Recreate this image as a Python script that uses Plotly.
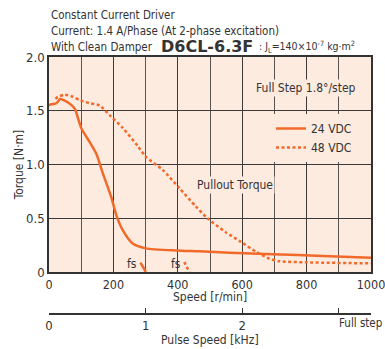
import plotly.graph_objects as go

# 24 VDC pullout torque (solid)
speed_24 = [0, 7, 23, 35, 49, 69, 80, 100, 126, 147, 167, 193, 210, 229, 260, 301, 394, 467, 560, 694, 850, 1000]
torque_24 = [1.55, 1.56, 1.57, 1.61, 1.595, 1.555, 1.52, 1.34, 1.21, 1.10, 0.92, 0.70, 0.52, 0.39, 0.265, 0.22, 0.20, 0.192, 0.18, 0.165, 0.15, 0.132]

# 48 VDC pullout torque (dashed)
speed_48 = [20, 28, 49, 74, 95, 126, 157, 188, 229, 276, 301, 353, 405, 456, 492, 549, 596, 642, 684, 715, 800, 1000]
torque_48 = [1.61, 1.63, 1.65, 1.63, 1.60, 1.57, 1.55, 1.46, 1.34, 1.17, 1.07, 0.95, 0.78, 0.61, 0.50, 0.37, 0.28, 0.19, 0.125, 0.10, 0.09, 0.08]

# starting frequency (fs) marks
fs_24_x = [284, 301]
fs_24_y = [0.088, 0.0]
fs_48_x = [420, 436]
fs_48_y = [0.093, 0.0]

# pulse speed axis
pulse_pos = [0, 300, 600, 900]
pulse_txt = ['0', '1', '2', '']

ORANGE = '#f26a2a'
BG = '#fdebe0'
TXT = '#333'
FONT = 'DejaVu Sans Condensed, Liberation Sans Narrow, sans-serif'

W, H = 385, 349
# paper area in pixels
L, R, T, B = 49, 371, 57, 314


def px(x, y):
    return (x - L) / (R - L), (B - y) / (B - T)


def note(x, y, text, size=12, anchor='left', family=None):
    xp, yp = px(x, y)
    f = dict(size=size, color=TXT)
    if family:
        f['family'] = family
    return dict(x=xp, y=yp, xref='paper', yref='paper', text=text, showarrow=False,
                xanchor=anchor, yanchor='middle', font=f)


fig = go.Figure()
fig.add_trace(go.Scatter(x=speed_24, y=torque_24, mode='lines', name='24 VDC',
                         line=dict(color=ORANGE, width=2.5, shape='spline', smoothing=0.6)))
fig.add_trace(go.Scatter(x=speed_48, y=torque_48, mode='lines', name='48 VDC',
                         line=dict(color=ORANGE, width=2.5, dash='3px,2.5px', shape='spline', smoothing=0.6)))
fig.add_trace(go.Scatter(x=fs_24_x, y=fs_24_y, mode='lines', showlegend=False,
                         line=dict(color=ORANGE, width=2.5)))
fig.add_trace(go.Scatter(x=fs_48_x, y=fs_48_y, mode='lines', showlegend=False,
                         line=dict(color=ORANGE, width=2.5, dash='3px,2.5px')))
# carrier for the pulse speed axis
fig.add_trace(go.Scatter(x=[0, 1000], y=[None, None], xaxis='x2', mode='lines',
                         showlegend=False, hoverinfo='skip'))

annos = [
    note(49, 15, 'Constant Current Driver', 11.5),
    note(49, 31, 'Current: 1.4 A/Phase (At 2-phase excitation)', 11.5),
    note(49, 47, 'With Clean Damper', 11.5),
    note(207, 47, '<b>D6CL-6.3F</b>', 16, 'center', family='DejaVu Sans'),
    note(257, 47, ': J<sub>L</sub>=140×10<sup>-7</sup> kg·m<sup>2</sup>', 10.5),
    note(210, 297, 'Speed [r/min]', 12, 'center'),
    note(210, 340, 'Pulse Speed [kHz]', 12, 'center'),
    note(384, 323, 'Full step', 11.5, 'right'),
]
annos.append(dict(x=797, y=1.71, text='Full Step 1.8°/step', showarrow=False,
                  bgcolor=BG, font=dict(size=12, color=TXT)))
annos.append(dict(x=578, y=0.81, text='Pullout Torque', showarrow=False,
                  bgcolor=BG, font=dict(size=12, color=TXT)))
annos.append(dict(x=258, y=0.075, text='fs', showarrow=False, font=dict(size=12, color=TXT)))
annos.append(dict(x=393, y=0.075, text='fs', showarrow=False, font=dict(size=12, color=TXT)))

fig.update_layout(
    width=W, height=H,
    margin=dict(l=L, r=W - R, t=T, b=H - B, autoexpand=False),
    paper_bgcolor='white', plot_bgcolor=BG,
    font=dict(family=FONT, size=12, color=TXT),
    showlegend=True,
    legend=dict(x=px(271, 0)[0], y=px(0, 114)[1], xanchor='left', yanchor='top',
                bgcolor=BG, font=dict(size=12, color=TXT),
                itemwidth=30, tracegroupgap=0),
    xaxis=dict(range=[0, 1000], dtick=200, tick0=0, showgrid=True, gridcolor='#3a3a3a',
               gridwidth=1.2, minor=dict(dtick=100, showgrid=True, gridcolor='#555', gridwidth=1.2),
               showline=True, linecolor='#333', linewidth=1.5, mirror=True,
               ticks='', zeroline=False, automargin=False, tickfont=dict(size=12.5),
               ticklabeloverflow='allow'),
    yaxis=dict(range=[0, 2], tickvals=[0, 0.5, 1, 1.5, 2],
               ticktext=['0', '0.5', '1.0', '1.5', '2.0'],
               showgrid=True, gridcolor='#3a3a3a', gridwidth=1.2,
               showline=True, linecolor='#333', linewidth=1.5, mirror=True,
               ticks='', zeroline=False, domain=[px(0, 272)[1], 1], automargin=False,
               tickfont=dict(size=13), ticklabeloverflow='allow',
               title=dict(text='Torque [N·m]', standoff=0, font=dict(size=12))),
    xaxis2=dict(range=[0, 1000], overlaying='x', anchor='free', position=0, side='bottom',
                tickvals=pulse_pos, ticktext=pulse_txt, ticks='inside', ticklen=5,
                tickcolor='#333', showline=True, linecolor='#333', linewidth=1.5,
                showgrid=False, zeroline=False, automargin=False, tickfont=dict(size=13),
                ticklabeloverflow='allow'),
    annotations=annos,
)

# drop the default 8px page margin so the 385x349 figure fills the window
fig.write_html('out.html', config={'displayModeBar': False},
               post_script="document.body.style.margin='0';document.body.style.overflow='hidden';")
